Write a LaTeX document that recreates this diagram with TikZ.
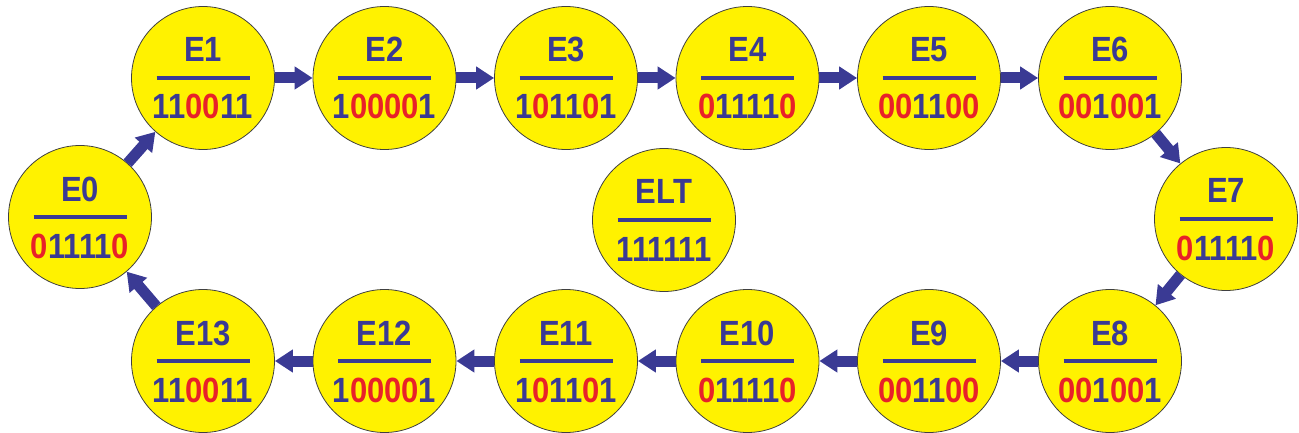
\documentclass[tikz,border=0pt]{standalone}
\usepackage{fontspec}
\setmainfont{Liberation Sans}
\usepackage{graphicx}
\usepackage{tikz}
\usetikzlibrary{arrows.meta}

\definecolor{eyellow}{RGB}{255,242,0}
\definecolor{eblue}{RGB}{58,58,148}
\definecolor{ered}{RGB}{232,33,41}
\newcommand{\rd}[1]{\textcolor{ered}{#1}}
\newcommand{\tall}[1]{\scalebox{1}[1.13]{#1}}

\tikzset{
  statecirc/.style={circle,draw=black!75,line width=0.8pt,fill=eyellow,minimum size=143pt,inner sep=0pt},
  titletext/.style={anchor=base,text=eblue,font=\fontsize{31}{31}\selectfont\bfseries,inner sep=0pt},
  codetext/.style={anchor=base,text=eblue,font=\fontsize{31}{31}\selectfont\bfseries,inner sep=0pt},
  barline/.style={eblue,line width=4pt},
  flowarrow/.style={eblue,line width=11pt,-{Triangle[length=18pt,width=22pt]}}
}

\begin{document}
\begin{tikzpicture}[x=1pt,y=-1pt]
\useasboundingbox (0,0) rectangle (1299,433);

% states: name / x / y / title / code
\foreach \n/\x/\y/\t/\d in {
  e0/80/217/E0/{\rd{0}1111\rd{0}},
  e1/203/78/E1/{11\rd{00}11},
  e2/384.5/78/E2/{1\rd{0000}1},
  e3/566/78/E3/{1\rd{0}11\rd{0}1},
  e4/747.5/78/E4/{\rd{0}1111\rd{0}},
  e5/929/78/E5/{\rd{00}11\rd{00}},
  e6/1110/78/E6/{\rd{00}1\rd{00}1},
  e7/1226/219/E7/{\rd{0}1111\rd{0}},
  e8/1110/361/E8/{\rd{00}1\rd{00}1},
  e9/929/361/E9/{\rd{00}11\rd{00}},
  e10/747.5/361/E10/{\rd{0}1111\rd{0}},
  e11/566/361/E11/{1\rd{0}11\rd{0}1},
  e12/384.5/361/E12/{1\rd{0000}1},
  e13/203/361/E13/{11\rd{00}11},
  elt/664/220/ELT/{111111}}
{
  \node[statecirc] (\n) at (\x,\y) {};
  \node[titletext] (\n-t) at (\x,\y-16) {\tall{\t}};
  \draw[barline] (\x-46.5,\y) -- (\x+46.5,\y);
  \node[codetext] (\n-c) at (\x,\y+41) {\tall{\d}};
}

% transitions
\foreach \a/\b in {e0/e1,e1/e2,e2/e3,e3/e4,e4/e5,e5/e6,e6/e7,e7/e8,
                   e8/e9,e9/e10,e10/e11,e11/e12,e12/e13,e13/e0}
  \draw[flowarrow] (\a) -- (\b);
\end{tikzpicture}
\end{document}
